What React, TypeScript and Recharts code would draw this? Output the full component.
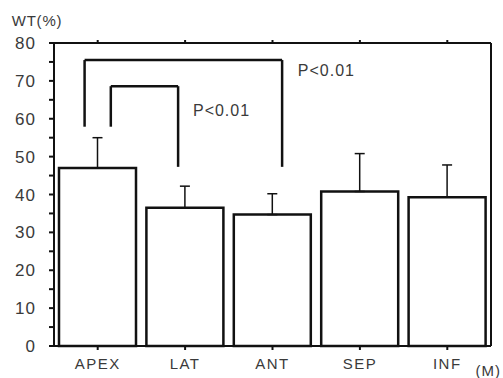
import React from 'react';
import { BarChart, Bar, XAxis, YAxis, ErrorBar, ReferenceLine, ReferenceDot } from 'recharts';

const categories = ['APEX', 'LAT', 'ANT', 'SEP', 'INF'];
const means = [47, 36.5, 34.7, 40.8, 39.3];
const sdUpper = [8, 5.7, 5.5, 10, 8.5];
const yTicks = [0, 5, 10, 15, 20, 25, 30, 35, 40, 45, 50, 55, 60, 65, 70, 75, 80];
const catPos = [0.5, 1.5, 2.5, 3.5, 4.5];

// brackets: x positions on a 0..5 category scale (category i centred at i + 0.5)
const bracketX1 = [0.35, 0.65];
const bracketX2 = [2.61, 1.42];
const bracketTop = [75.5, 68.6];
const bracketLeftEnd = [57.9, 57.9];
const bracketRightEnd = [47.3, 47.3];
const bracketLabels = ['P<0.01', 'P<0.01'];
const bracketLabelX = [2.79, 1.59];
const bracketLabelY = [72.8, 62.1];

const data = categories.map((c, i) => ({ name: c, pos: catPos[i], mean: means[i], err: [0, sdUpper[i]] }));

const FONT = '"Liberation Sans", Arial, sans-serif';
const TXT = '#3a3a3a';
const INK = '#111';

export default function App() {
  return (
    <div style={{ position: 'absolute', left: 0, top: 0, background: '#fff' }}>
      <BarChart
        width={503}
        height={378}
        data={data}
        margin={{ top: 40, right: 0, bottom: 0, left: 0 }}
        barCategoryGap={5}
      >
        <XAxis
          xAxisId="top"
          dataKey="name"
          orientation="top"
          height={3}
          tickSize={3}
          tickFormatter={() => ''}
          stroke={INK}
          strokeWidth={2}
        />
        <XAxis
          xAxisId="cat"
          dataKey="name"
          height={32}
          tickSize={4}
          tickMargin={8}
          stroke={INK}
          strokeWidth={2}
          tick={{ fill: TXT, fontSize: 15, fontFamily: FONT, letterSpacing: 1.5 }}
          label={{ value: '(M)', position: 'insideBottomRight', offset: 0, dx: 10, dy: -2, fill: TXT, fontSize: 15, fontFamily: FONT, letterSpacing: 1 }}
        />
        <XAxis
          xAxisId="num"
          dataKey="pos"
          type="number"
          domain={[0, 5]}
          ticks={[0, 5]}
          allowDataOverflow
          padding={{ left: 0, right: 0 }}
          hide
        />
        <YAxis
          yAxisId="left"
          width={54}
          domain={[0, 80]}
          ticks={yTicks}
          interval={0}
          tickSize={5}
          tickMargin={13}
          stroke={INK}
          strokeWidth={2}
          tickFormatter={(v: number) => (v % 10 === 0 ? String(v) : '')}
          tick={{ fill: TXT, fontSize: 17, fontFamily: FONT, letterSpacing: 1 }}
          label={{ value: 'WT(%)', position: 'top', offset: 17, dx: 10, fill: TXT, fontSize: 15, fontFamily: FONT, letterSpacing: 0.8 }}
        />
        <YAxis
          yAxisId="right"
          orientation="right"
          width={12}
          domain={[0, 80]}
          ticks={yTicks}
          interval={0}
          tickSize={5}
          tickFormatter={() => ''}
          stroke={INK}
          strokeWidth={2}
        />
        <Bar
          dataKey="mean"
          xAxisId="cat"
          yAxisId="left"
          fill="#fff"
          stroke={INK}
          strokeWidth={2.5}
          isAnimationActive={false}
        >
          <ErrorBar dataKey="err" direction="y" width={5} stroke={INK} strokeWidth={1.5} isAnimationActive={false} />
        </Bar>
        {bracketX1.map((x1, i) => (
          <ReferenceLine
            key={`t${i}`}
            xAxisId="num"
            yAxisId="left"
            segment={[{ x: x1, y: bracketTop[i] }, { x: bracketX2[i], y: bracketTop[i] }]}
            stroke={INK}
            strokeWidth={2.5}
            ifOverflow="visible"
          />
        ))}
        {bracketX1.map((x1, i) => (
          <ReferenceLine
            key={`l${i}`}
            xAxisId="num"
            yAxisId="left"
            segment={[{ x: x1, y: bracketLeftEnd[i] }, { x: x1, y: bracketTop[i] }]}
            stroke={INK}
            strokeWidth={2.5}
            ifOverflow="visible"
          />
        ))}
        {bracketX2.map((x2, i) => (
          <ReferenceLine
            key={`r${i}`}
            xAxisId="num"
            yAxisId="left"
            segment={[{ x: x2, y: bracketRightEnd[i] }, { x: x2, y: bracketTop[i] }]}
            stroke={INK}
            strokeWidth={2.5}
            ifOverflow="visible"
          />
        ))}
        {bracketLabels.map((t, i) => (
          <ReferenceDot
            key={`p${i}`}
            xAxisId="num"
            yAxisId="left"
            x={bracketLabelX[i]}
            y={bracketLabelY[i]}
            r={0}
            fill="none"
            stroke="none"
            ifOverflow="visible"
            label={{ value: t, position: 'right', offset: 0, fill: TXT, fontSize: 16, fontFamily: FONT, letterSpacing: 1 }}
          />
        ))}
      </BarChart>
    </div>
  );
}
